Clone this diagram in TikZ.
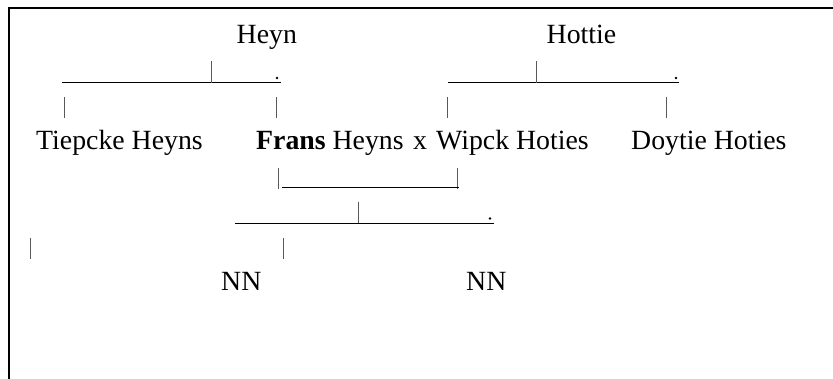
\documentclass[tikz,border=0pt]{standalone}
\usepackage{fontspec}
\setmainfont{Liberation Serif}
\begin{document}
\begin{tikzpicture}[x=1pt,y=-1pt,
  lbl/.style={anchor=base west, inner sep=0pt, font=\fontsize{27.8}{32}\selectfont},
  bar/.style={line width=1.4pt, black},
  tickline/.style={line width=0.9pt, black!65},
  framel/.style={line width=2pt, black},
  dotmark/.style={circle, fill=black, inner sep=0pt, minimum size=2.6pt}]
\useasboundingbox (0,0) rectangle (833,379);
% frame
\coordinate (fbl) at (8.5,379);
\coordinate (ftl) at (8.5,8.5);
\coordinate (ftr) at (833,8.5);
\draw[framel] (fbl) -- (ftl) -- (ftr);
% texts
\node[lbl] (heyn) at (236.5,44) {Heyn};
\node[lbl] (hottie) at (546.5,44) {Hottie};
\node[lbl] (tiepcke) at (36,150) {Tiepcke Heyns};
\node[lbl] (frans) at (256,150) {\textbf{Frans} Heyns};
\node[lbl] (xmark) at (413,150) {x};
\node[lbl] (wipck) at (436,150) {Wipck Hoties};
\node[lbl] (doytie) at (631,150) {Doytie Hoties};
\node[lbl] (nna) at (221,291) {NN};
\node[lbl] (nnb) at (466,291) {NN};
% Heyn family bar
\coordinate (hA) at (62,82.7);
\coordinate (hB) at (281,82.7);
\coordinate (hT1) at (211,61.5);
\coordinate (hT2) at (211,82.7);
\draw[bar] (hA) -- (hB);
\draw[tickline] (hT1) -- (hT2);
\node[dotmark] (hdot) at (277,78) {};
\coordinate (hL1) at (64.3,97);
\coordinate (hL2) at (64.3,118.5);
\coordinate (hR1) at (276,97);
\coordinate (hR2) at (276,118.5);
\draw[tickline] (hL1) -- (hL2);
\draw[tickline] (hR1) -- (hR2);
% Hottie family bar
\coordinate (oA) at (448,82.7);
\coordinate (oB) at (679,82.7);
\coordinate (oT1) at (536.7,61.5);
\coordinate (oT2) at (536.7,82.7);
\draw[bar] (oA) -- (oB);
\draw[tickline] (oT1) -- (oT2);
\node[dotmark] (odot) at (676,78) {};
\coordinate (oL1) at (447.7,97);
\coordinate (oL2) at (447.7,118.5);
\coordinate (oR1) at (666,97);
\coordinate (oR2) at (666,118.5);
\draw[tickline] (oL1) -- (oL2);
\draw[tickline] (oR1) -- (oR2);
% marriage bracket
\coordinate (mL1) at (278.3,168.3);
\coordinate (mL2) at (278.3,189.3);
\coordinate (mR1) at (457.3,168.3);
\coordinate (mR2) at (457.3,189.3);
\coordinate (mA) at (281.7,187.3);
\coordinate (mB) at (459.3,187.3);
\draw[tickline] (mL1) -- (mL2);
\draw[tickline] (mR1) -- (mR2);
\draw[bar] (mA) -- (mB);
% children bar
\coordinate (cA) at (235,223.3);
\coordinate (cB) at (494,223.3);
\coordinate (cT1) at (358.3,202.3);
\coordinate (cT2) at (358.3,223.3);
\draw[bar] (cA) -- (cB);
\draw[tickline] (cT1) -- (cT2);
\node[dotmark] (cdot) at (490,218.5) {};
\coordinate (cL1) at (30,238.3);
\coordinate (cL2) at (30,259.3);
\coordinate (cR1) at (283.3,238.3);
\coordinate (cR2) at (283.3,259.3);
\draw[tickline] (cL1) -- (cL2);
\draw[tickline] (cR1) -- (cR2);
\end{tikzpicture}
\end{document}
